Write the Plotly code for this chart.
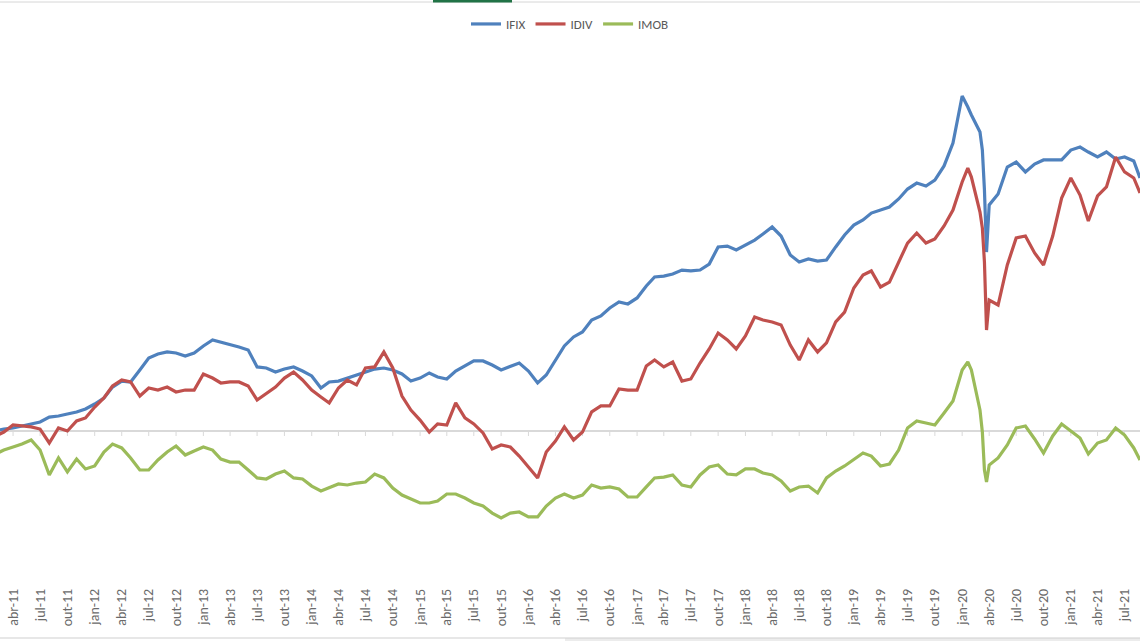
import plotly.graph_objects as go

# ---------------- data ----------------
dates = [
    "2011-02-01", "2011-03-01", "2011-04-01", "2011-05-01", "2011-06-01", "2011-07-01",
    "2011-08-01", "2011-09-01", "2011-10-01", "2011-11-01", "2011-12-01",
    "2012-01-01", "2012-02-01", "2012-03-01", "2012-04-01", "2012-05-01", "2012-06-01",
    "2012-07-01", "2012-08-01", "2012-09-01", "2012-10-01", "2012-11-01", "2012-12-01",
    "2013-01-01", "2013-02-01", "2013-03-01", "2013-04-01", "2013-05-01", "2013-06-01",
    "2013-07-01", "2013-08-01", "2013-09-01", "2013-10-01", "2013-11-01", "2013-12-01",
    "2014-01-01", "2014-02-01", "2014-03-01", "2014-04-01", "2014-05-01", "2014-06-01",
    "2014-07-01", "2014-08-01", "2014-09-01", "2014-10-01", "2014-11-01", "2014-12-01",
    "2015-01-01", "2015-02-01", "2015-03-01", "2015-04-01", "2015-05-01", "2015-06-01",
    "2015-07-01", "2015-08-01", "2015-09-01", "2015-10-01", "2015-11-01", "2015-12-01",
    "2016-01-01", "2016-02-01", "2016-03-01", "2016-04-01", "2016-05-01", "2016-06-01",
    "2016-07-01", "2016-08-01", "2016-09-01", "2016-10-01", "2016-11-01", "2016-12-01",
    "2017-01-01", "2017-02-01", "2017-03-01", "2017-04-01", "2017-05-01", "2017-06-01",
    "2017-07-01", "2017-08-01", "2017-09-01", "2017-10-01", "2017-11-01", "2017-12-01",
    "2018-01-01", "2018-02-01", "2018-03-01", "2018-04-01", "2018-05-01", "2018-06-01",
    "2018-07-01", "2018-08-01", "2018-09-01", "2018-10-01", "2018-11-01", "2018-12-01",
    "2019-01-01", "2019-02-01", "2019-03-01", "2019-04-01", "2019-05-01", "2019-06-01",
    "2019-07-01", "2019-08-01", "2019-09-01", "2019-10-01", "2019-11-01", "2019-12-01",
    "2020-01-01", "2020-01-20", "2020-02-01", "2020-03-01", "2020-03-09", "2020-03-16",
    "2020-03-23", "2020-04-01", "2020-05-01", "2020-06-01", "2020-07-01", "2020-08-01",
    "2020-09-01", "2020-10-01", "2020-11-01", "2020-12-01",
    "2021-01-01", "2021-02-01", "2021-03-01", "2021-04-01", "2021-05-01", "2021-06-01",
    "2021-07-01", "2021-08-01", "2021-08-22",
]

ifix = [
    0.0, 1.3, 2.0, 3.3, 4.7, 6.0, 9.3, 10.0, 11.3, 12.7, 14.7,
    18.0, 22.0, 29.3, 33.3, 32.7, 40.7, 48.7, 51.3, 52.7, 52.0, 50.0, 52.0,
    56.7, 60.7, 59.3, 57.3, 56.0, 54.0, 42.7, 42.0, 39.3, 41.3, 42.7, 40.0,
    36.7, 28.7, 32.7, 33.3, 35.3, 37.3, 39.3, 41.3, 42.0, 40.7, 38.0, 33.3,
    35.3, 38.7, 36.0, 34.7, 40.0, 43.3, 46.7, 46.7, 44.0, 40.7, 43.3, 45.3,
    40.0, 32.0, 37.3, 47.3, 56.7, 62.7, 66.0, 74.0, 76.7, 82.0, 86.0, 84.7,
    88.7, 96.7, 102.7, 103.3, 104.7, 107.3, 106.7, 107.3, 111.3, 122.7, 123.3, 120.7,
    124.0, 127.3, 131.3, 136.0, 130.0, 117.3, 112.7, 114.7, 113.3, 114.0, 122.7, 130.7,
    137.3, 140.7, 145.3, 147.3, 149.3, 154.7, 161.3, 165.3, 163.3, 167.3, 176.7, 192.0,
    223.3, 216.0, 210.7, 199.3, 187.3, 160.7, 119.3, 150.7, 158.0, 176.0, 179.3, 172.7,
    178.0, 180.7, 180.7, 180.7,
    187.3, 189.3, 186.0, 182.7, 186.0, 181.3, 182.7, 180.0, 168.7,
]

idiv = [
    -3.3, -0.7, 4.0, 3.3, 2.7, 1.3, -8.0, 2.0, 0.0, 6.7, 8.7,
    16.0, 22.0, 30.0, 34.0, 32.7, 23.3, 28.7, 27.3, 29.3, 26.0, 27.3, 27.3,
    38.0, 35.3, 32.0, 32.7, 32.7, 30.0, 20.7, 24.7, 29.3, 35.3, 39.3, 34.0,
    27.3, 22.7, 18.7, 28.7, 34.0, 30.7, 42.0, 42.7, 52.7, 42.0, 23.3, 14.0,
    7.3, -0.7, 4.7, 4.0, 18.7, 8.7, 4.7, -1.3, -12.0, -9.3, -10.7, -16.7,
    -24.0, -31.3, -14.0, -6.7, 2.7, -6.0, -0.7, 12.7, 16.7, 16.7, 28.0, 27.3,
    27.3, 43.3, 47.3, 42.7, 46.0, 33.3, 34.7, 45.3, 54.7, 65.3, 60.7, 54.7,
    63.3, 76.0, 74.0, 72.7, 70.7, 57.3, 47.3, 60.7, 52.7, 58.7, 72.7, 79.3,
    95.3, 104.0, 106.7, 96.0, 99.3, 112.7, 125.3, 132.0, 125.3, 128.0, 136.7, 147.3,
    166.0, 175.3, 169.3, 146.0, 135.3, 112.7, 67.3, 87.3, 84.0, 110.7, 128.7, 130.0,
    118.7, 110.7, 130.0, 155.3,
    168.7, 157.3, 140.0, 156.7, 162.7, 182.7, 172.7, 168.7, 158.7,
]

imob = [
    -15.3, -12.7, -10.7, -8.7, -6.0, -12.7, -29.3, -18.0, -27.3, -18.7, -25.3,
    -23.3, -14.0, -8.7, -11.3, -18.0, -26.0, -26.0, -19.3, -14.0, -10.0, -16.0, -13.3,
    -10.7, -12.7, -18.7, -20.7, -20.7, -26.0, -31.3, -32.0, -28.7, -26.7, -31.3, -32.0,
    -36.7, -40.0, -38.0, -35.3, -36.0, -34.7, -34.0, -28.7, -31.3, -38.0, -42.7, -45.3,
    -48.0, -48.0, -46.7, -42.0, -42.0, -44.7, -48.0, -50.0, -54.7, -58.0, -54.7, -54.0,
    -57.3, -57.3, -50.0, -44.7, -42.0, -44.7, -42.7, -36.0, -38.0, -37.3, -38.7, -44.0,
    -44.0, -37.3, -31.3, -30.7, -29.3, -36.0, -37.3, -29.3, -24.0, -22.7, -28.7, -29.3,
    -25.3, -25.3, -28.0, -29.3, -33.3, -40.0, -37.3, -36.7, -41.3, -31.3, -26.7, -23.3,
    -19.3, -14.7, -16.7, -23.3, -22.0, -12.7, 2.0, 6.7, 5.3, 4.0, 12.0, 20.0,
    40.7, 46.0, 40.7, 14.0, -0.7, -26.0, -34.0, -22.7, -18.0, -9.3, 2.0, 3.3,
    -5.3, -14.7, -3.3, 4.7,
    0.0, -4.7, -15.3, -8.0, -6.0, 2.0, -2.7, -11.3, -19.3,
]

tick_labels = [
    "abr-11", "jul-11", "out-11",
    "jan-12", "abr-12", "jul-12", "out-12",
    "jan-13", "abr-13", "jul-13", "out-13",
    "jan-14", "abr-14", "jul-14", "out-14",
    "jan-15", "abr-15", "jul-15", "out-15",
    "jan-16", "abr-16", "jul-16", "out-16",
    "jan-17", "abr-17", "jul-17", "out-17",
    "jan-18", "abr-18", "jul-18", "out-18",
    "jan-19", "abr-19", "jul-19", "out-19",
    "jan-20", "abr-20", "jul-20", "out-20",
    "jan-21", "abr-21", "jul-21",
]

series_names = ["IFIX", "IDIV", "IMOB"]
series_colors = ["#4F81BD", "#C0504D", "#9BBB59"]

# ---------------- build figure ----------------
month_num = {"jan": "01", "abr": "04", "jul": "07", "out": "10"}
tick_dates = ["20" + t[4:] + "-" + month_num[t[:3]] + "-01" for t in tick_labels]

W, H = 1140, 641
TOP, BOTTOM = 40, 56
plot_h = H - TOP - BOTTOM

fig = go.Figure()
for name, vals, col in zip(series_names, [ifix, idiv, imob], series_colors):
    fig.add_trace(go.Scatter(
        x=dates, y=vals, name=name, mode="lines",
        line=dict(color=col, width=3.2),
    ))

def py2paper(py):
    return 1 + (TOP - py) / plot_h

shapes = []
# small tick marks hanging below the horizontal axis line (at value 0)
for d in tick_dates:
    shapes.append(dict(type="line", xref="x", yref="y", x0=d, x1=d,
                       ysizemode="pixel", yanchor=0, y0=0, y1=-5,
                       line=dict(color="#d9d9d9", width=1), layer="below"))
# window chrome at top and bottom of the screenshot
shapes.append(dict(type="line", xref="paper", yref="paper", x0=0, x1=1,
                   y0=py2paper(2), y1=py2paper(2), line=dict(color="#d6d6d6", width=1)))
shapes.append(dict(type="rect", xref="paper", yref="paper", x0=433 / W, x1=512 / W,
                   y0=py2paper(2.5), y1=py2paper(0), line=dict(width=0), fillcolor="#217346"))
shapes.append(dict(type="rect", xref="paper", yref="paper", x0=565 / W, x1=1,
                   y0=py2paper(641), y1=py2paper(638), line=dict(width=0), fillcolor="#ececec"))
shapes.append(dict(type="line", xref="paper", yref="paper", x0=0, x1=1,
                   y0=py2paper(638), y1=py2paper(638), line=dict(color="#cfcfcf", width=1)))

font_family = "Carlito, Calibri, Lato, sans-serif"

fig.update_layout(
    width=W, height=H,
    template="none",
    paper_bgcolor="white", plot_bgcolor="white",
    margin=dict(l=0, r=0, t=TOP, b=BOTTOM, pad=0),
    font=dict(family=font_family, size=12, color="#595959"),
    showlegend=True,
    legend=dict(orientation="h", x=0.5, xanchor="center", y=py2paper(24), yanchor="middle",
                font=dict(family=font_family, size=13, color="#595959"),
                bgcolor="rgba(0,0,0,0)", itemwidth=30, tracegroupgap=0),
    xaxis=dict(
        type="date",
        range=["2011-02-16", "2021-08-22"],
        tickmode="array", tickvals=tick_dates, ticktext=tick_labels,
        tickangle=-90, ticks="", showgrid=False, showline=False, zeroline=False,
        tickfont=dict(family=font_family, size=14, color="#6a6a6a"),
        automargin=False, fixedrange=True,
    ),
    yaxis=dict(
        range=[(431 - (H - BOTTOM)) / 1.5, (431 - TOP) / 1.5],
        showticklabels=False, ticks="", showgrid=False, showline=False,
        zeroline=True, zerolinecolor="#d9d9d9", zerolinewidth=1.5,
        automargin=False, fixedrange=True,
    ),
    shapes=shapes,
)

fig.write_html(
    "out.html",
    config={"displayModeBar": False},
    post_script="document.body.style.margin='0';document.body.style.overflow='hidden';",
)
